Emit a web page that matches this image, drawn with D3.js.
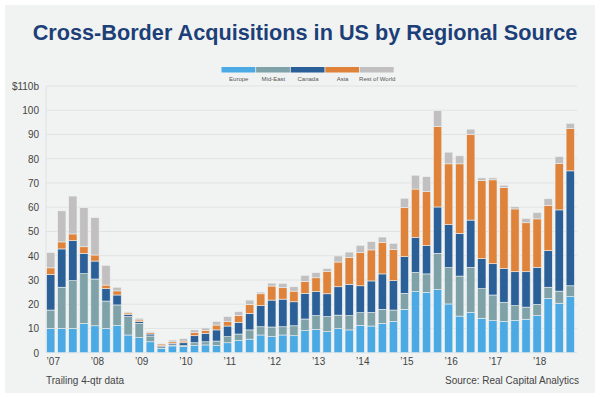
<!DOCTYPE html>
<html lang="en">
<head>
    <meta charset="UTF-8">
    <script src="https://d3js.org/d3.v7.min.js"></script>
    <title>Cross-Border Acquisitions in US by Regional Source</title>
    <style>
        body { margin: 0; background: #fff; }
        svg { display: block; }
        text { font-family: "Liberation Sans Narrow", "Arial Narrow", "Liberation Sans", sans-serif; fill: #444; }
    </style>
</head>
<body>
    <svg width="601" height="399"></svg>
    <script>
        // trailing 4-qtr volume, $b, by region
        const quarters = [];
        for (let y = 2007; y <= 2018; y++) for (let q = 1; q <= 4; q++) quarters.push(y + 'Q' + q);

        const europe = [10, 10, 10, 12.1, 11.1, 10, 11.2, 7.3, 6.2, 4.5, 1.8, 2.8,
            2.5, 2.9, 3.2, 2.9, 4.1, 5, 5.6, 7.3, 6.6, 7.3, 7, 9.1,
            9.6, 8.7, 9.9, 9.4, 11.3, 11, 12.1, 12.9, 17.9, 25.2, 24.9, 26,
            20.1, 15.1, 16.6, 14.2, 13.2, 12.9, 13.3, 13.8, 15.3, 22.4, 20.4, 23.1];
        const midEast = [7.6, 17, 19.7, 20.5, 19.3, 11.3, 8.5, 7.6, 5.9, 2.4, 0.7, 0.4,
            0.4, 1.2, 1.3, 1.9, 2.5, 2.7, 3.8, 3.4, 4.0, 3.4, 4.1, 4.8,
            5.7, 6.2, 5.6, 5.9, 5.2, 5.6, 5.8, 4.7, 6.6, 7.9, 7.6, 15,
            15, 16.5, 18.6, 12.2, 10.6, 7.9, 6.1, 5.0, 4.6, 4.6, 5.0, 4.5];
        const canada = [14.7, 15.8, 16.5, 8.4, 7.4, 5.1, 4.1, 0.8, 0.7, 0.8, 0.4, 0.7,
            1.2, 2.9, 3.5, 4.6, 4.4, 4.8, 6.8, 8.7, 11.1, 11.4, 9.9, 10.6,
            9.9, 9.4, 11.7, 12.9, 11.1, 13.0, 14.6, 12.1, 15.1, 14.4, 11.7, 19.1,
            17.7, 17.6, 19.5, 12.4, 12.9, 13.9, 14.0, 14.6, 15.3, 15.1, 33.5, 47.4];
        const asia = [2.7, 2.9, 2.8, 2.7, 2.5, 1.5, 1.7, 0.7, 0.7, 0.6, 0.7, 0.6,
            0.7, 1.3, 1.1, 2.0, 1.8, 2.9, 3.7, 4.9, 5.8, 4.7, 4.4, 4.9,
            5.7, 9.3, 10.2, 11.0, 13.7, 12.8, 12.9, 12.8, 20.2, 20.0, 22.2, 33.2,
            25.1, 28.7, 35.4, 32.2, 34.6, 33.4, 25.9, 20.2, 20.0, 18.7, 19.2, 17.4];
        const restOfWorld = [6.3, 12.8, 15.6, 16.1, 15.4, 8.1, 1.5, 0.4, 0.7, 0.4, 0.3, 0.7,
            1.0, 1.1, 1.1, 1.5, 2.1, 1.5, 1.8, 0.7, 1.2, 1.8, 1.8, 2.5,
            2.1, 1.1, 2.5, 2.3, 3.0, 3.4, 2.3, 2.6, 3.9, 5.7, 6.2, 6.6,
            4.8, 3.3, 2.1, 1.1, 0.8, 1.0, 0.9, 1.8, 2.6, 2.7, 2.8, 2.2];

        const seriesNames = ['Europe', 'Mid-East', 'Canada', 'Asia', 'Rest of World'];
        const seriesColors = ['#4ba9e3', '#7fa2a8', '#2a5f98', '#df833a', '#c1bfc0'];
        const yTicks = [0, 10, 20, 30, 40, 50, 60, 70, 80, 90, 100, 110];

        const rows = quarters.map((q, i) => ({
            q: q,
            'Europe': europe[i],
            'Mid-East': midEast[i],
            'Canada': canada[i],
            'Asia': asia[i],
            'Rest of World': restOfWorld[i]
        }));

        const svg = d3.select('svg');

        // panel
        svg.append('rect')
            .attr('x', 5).attr('y', 5)
            .attr('width', 590).attr('height', 388)
            .attr('fill', '#f1f3f2');

        const title = svg.append('text')
            .attr('x', 305).attr('y', 40)
            .attr('text-anchor', 'middle')
            .style('font-weight', 'bold')
            .style('font-size', '23px')
            .style('fill', '#1d3f78')
            .text('Cross-Border Acquisitions in US by Regional Source');
        // fit the title to the width it has in the picture
        const tw = title.node().getComputedTextLength();
        title.style('font-size', (23 * 545 / tw).toFixed(2) + 'px');

        // legend
        const legend = svg.append('g').attr('transform', 'translate(221.5, 67)');
        const swatch = 34.6;
        seriesNames.forEach((name, i) => {
            legend.append('rect')
                .attr('x', i * swatch).attr('y', 0)
                .attr('width', swatch - 0.8).attr('height', 5.5)
                .attr('fill', seriesColors[i]);
            legend.append('text')
                .attr('x', i * swatch + swatch / 2).attr('y', 13.5)
                .attr('text-anchor', 'middle')
                .style('font-size', '6px')
                .style('fill', '#555')
                .text(name);
        });

        const yScale = d3.scaleLinear()
            .domain([0, 110])
            .range([352.7, 86]);

        const xScale = d3.scaleBand()
            .domain(quarters)
            .range([45.5, 575.5])
            .paddingInner(0.25)
            .paddingOuter(0.1);

        // gridlines
        svg.append('g')
            .selectAll('line')
            .data(yTicks)
            .enter().append('line')
            .attr('x1', 46).attr('x2', 577)
            .attr('y1', d => yScale(d)).attr('y2', d => yScale(d))
            .attr('stroke', '#e1e3e3')
            .attr('stroke-width', 1);

        svg.append('line')
            .attr('x1', 46).attr('x2', 46)
            .attr('y1', yScale(110)).attr('y2', yScale(0))
            .attr('stroke', '#e1e3e3');

        const yAxis = d3.axisLeft(yScale)
            .tickValues(yTicks)
            .tickSize(0)
            .tickPadding(0)
            .tickFormat(d => d === 110 ? '$110b' : d);

        svg.append('g')
            .attr('transform', 'translate(39, 0)')
            .call(yAxis)
            .call(g => g.select('.domain').remove())
            .selectAll('text')
            .style('font-size', '10px')
            .style('fill', '#444')
            .attr('dy', '0.35em');

        const stack = d3.stack().keys(seriesNames);
        const layers = stack(rows);

        svg.append('g')
            .selectAll('g')
            .data(layers)
            .enter().append('g')
            .attr('fill', (d, i) => seriesColors[i])
            .selectAll('rect')
            .data(d => d)
            .enter().append('rect')
            .attr('x', d => xScale(d.data.q))
            .attr('y', d => yScale(d[1]))
            .attr('width', xScale.bandwidth())
            .attr('height', d => yScale(d[0]) - yScale(d[1]))
            .attr('stroke', '#eef1f1')
            .attr('stroke-width', 0.6);

        const xAxis = d3.axisBottom(xScale)
            .tickValues(quarters.filter(q => q.endsWith('Q1')))
            .tickSize(0)
            .tickPadding(0)
            .tickFormat(q => '\u2019' + q.slice(2, 4));

        svg.append('g')
            .attr('transform', 'translate(0, 352.7)')
            .call(xAxis)
            .call(g => g.select('.domain').remove())
            .selectAll('text')
            .attr('text-anchor', 'start')
            .attr('x', -xScale.bandwidth() / 2)
            .attr('y', 12)
            .attr('dy', 0)
            .style('font-size', '10px')
            .style('fill', '#444');

        svg.append('text')
            .attr('x', 46).attr('y', 384)
            .style('font-size', '10px')
            .text('Trailing 4-qtr data');

        svg.append('text')
            .attr('x', 579).attr('y', 384)
            .attr('text-anchor', 'end')
            .style('font-size', '10px')
            .text('Source: Real Capital Analytics');
    </script>
</body>
</html>
